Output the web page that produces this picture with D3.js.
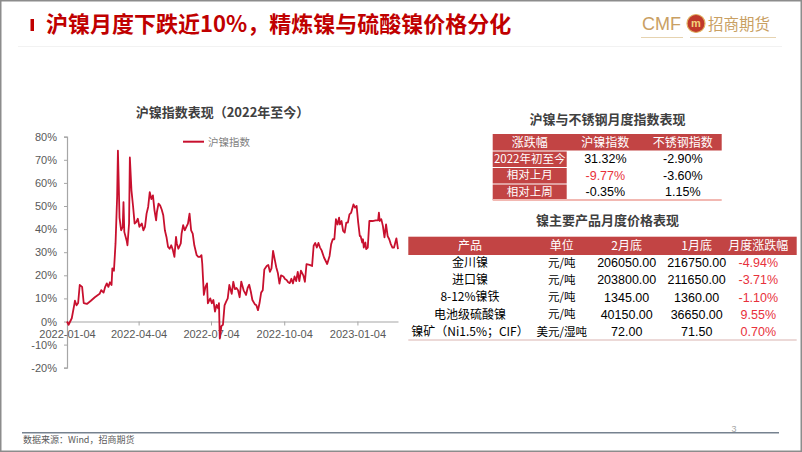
<!DOCTYPE html>
<html>
<head>
<meta charset="utf-8">
<script src="https://cdn.jsdelivr.net/npm/d3@7/dist/d3.min.js"></script>
<style>
  body { margin: 0; background: #fff; }
  svg { display: block; }
  text { font-family: "Noto Sans CJK SC", "Liberation Sans", sans-serif; }
  .num { font-family: "Liberation Sans", Arial, sans-serif; }
</style>
</head>
<body>
<div id="chart"></div>
<script>
'use strict';

// 沪镍指数 (2022年初以来累计涨跌, %)
var dates = [
  "2022-01-04","2022-01-06","2022-01-10","2022-01-13","2022-01-14","2022-01-16","2022-01-18","2022-01-20","2022-01-23","2022-01-25",
  "2022-01-29","2022-02-03","2022-02-08","2022-02-14","2022-02-16","2022-02-19","2022-02-21","2022-02-23","2022-02-25","2022-02-27",
  "2022-03-01","2022-03-02","2022-03-04","2022-03-06","2022-03-08","2022-03-09","2022-03-10","2022-03-11","2022-03-13","2022-03-15",
  "2022-03-16","2022-03-17","2022-03-20","2022-03-21","2022-03-23","2022-03-24","2022-03-26","2022-03-28","2022-03-30","2022-04-01",
  "2022-04-03","2022-04-05","2022-04-08","2022-04-10","2022-04-12","2022-04-14","2022-04-16","2022-04-18","2022-04-20","2022-04-22",
  "2022-04-24","2022-04-26","2022-04-27","2022-04-29","2022-05-01","2022-05-03","2022-05-05","2022-05-07","2022-05-09","2022-05-11",
  "2022-05-13","2022-05-15","2022-05-17","2022-05-19","2022-05-21","2022-05-22","2022-05-24","2022-05-27","2022-05-28","2022-05-30",
  "2022-06-01","2022-06-03","2022-06-05","2022-06-07","2022-06-09","2022-06-11","2022-06-13","2022-06-16","2022-06-18","2022-06-20",
  "2022-06-22","2022-06-23","2022-06-25","2022-06-27","2022-06-29","2022-06-30","2022-07-03","2022-07-05","2022-07-07","2022-07-09",
  "2022-07-11","2022-07-13","2022-07-14","2022-07-15","2022-07-17","2022-07-19","2022-07-21","2022-07-23","2022-07-25","2022-07-27",
  "2022-07-30","2022-08-01","2022-08-03","2022-08-05","2022-08-07","2022-08-09","2022-08-11","2022-08-14","2022-08-17","2022-08-19",
  "2022-08-21","2022-08-23","2022-08-25","2022-08-28","2022-08-30","2022-09-01","2022-09-03","2022-09-05","2022-09-07","2022-09-09",
  "2022-09-12","2022-09-14","2022-09-16","2022-09-18","2022-09-20","2022-09-22","2022-09-24","2022-09-26","2022-09-28","2022-09-30",
  "2022-10-03","2022-10-05","2022-10-07","2022-10-09","2022-10-11","2022-10-13","2022-10-15","2022-10-17","2022-10-19","2022-10-21",
  "2022-10-23","2022-10-25","2022-10-28","2022-10-30","2022-11-01","2022-11-05","2022-11-08","2022-11-10","2022-11-12","2022-11-14",
  "2022-11-16","2022-11-18","2022-11-20","2022-11-23","2022-11-27","2022-11-30","2022-12-02","2022-12-04","2022-12-06","2022-12-08",
  "2022-12-10","2022-12-12","2022-12-13","2022-12-15","2022-12-17","2022-12-19","2022-12-21","2022-12-23","2022-12-25","2022-12-27",
  "2022-12-30","2023-01-01","2023-01-03","2023-01-05","2023-01-07","2023-01-08","2023-01-10","2023-01-11","2023-01-12","2023-01-14",
  "2023-01-15","2023-01-17","2023-01-19","2023-01-23","2023-01-27","2023-01-30","2023-01-31","2023-02-01","2023-02-03","2023-02-05",
  "2023-02-07","2023-02-09","2023-02-11","2023-02-13","2023-02-15","2023-02-17","2023-02-19","2023-02-22","2023-02-24"
];
var nickelIndex = [
  0, -1.4, 1.4, 7, 9, 7, 8, 15.8, 15, 8,
  7.6, 9, 10.5, 12, 13.6, 12.5, 15, 16.5, 15, 17,
  15.8, 23, 22, 33.8, 53.9, 74, 60, 45, 39.5, 41,
  51.7, 38.8, 35, 33, 42.4, 71, 56.8, 50, 42.4, 43,
  44.5, 41, 42.4, 39.5, 41, 46.7, 49.6, 56, 53, 54.6,
  48, 43.8, 47.4, 51, 50.3, 48.5, 46, 39.5, 36.6, 32.3,
  31.5, 33, 31, 28, 36.6, 33.8, 31.5, 33.8, 38, 41.7,
  39.5, 41, 42.4, 46.7, 39.5, 38, 33, 28.7, 28, 28,
  28.7, 25, 11.5, 15, 16.5, 7.9, 10, 7.9, 9.3, 4.3,
  7.2, 5.7, 7.9, -7.4, -2, -1.4, 7, 8.6, 10, 15.8,
  12, 17.2, 14, 14.5, 13.5, 10.5, 17.3, 13.5, 11.5, 14.5,
  15.9, 13, 9.3, 7.5, 7, 4.9, 8, 12.5, 13.5, 22.5,
  24, 24.5, 21.5, 23, 30.6, 27, 23.5, 21, 16.4, 20,
  19.5, 18.4, 18, 17, 16.6, 18.5, 16.5, 19.5, 17.5, 21.5,
  17.5, 22, 20, 17.2, 24.8, 24.5, 24, 32.8, 34, 32,
  34, 32, 30.8, 27.7, 24.9, 28.4, 33.5, 35.6, 35.6, 44.3,
  42, 45, 42, 43.5, 39.2, 38.5, 42.8, 42.8, 46.4, 47,
  50.7, 49.3, 50, 42.8, 37, 37, 34.2, 35.6, 32, 34.2,
  31.3, 32, 43.5, 43.5, 43.8, 43.8, 47.1, 43.5, 44.3, 41.4,
  36.4, 42, 37, 35.6, 33.5, 32, 32, 36, 31.3
];
var yTicks = [-20, -10, 0, 10, 20, 30, 40, 50, 60, 70, 80];
var xTicks = ["2022-01-04", "2022-04-04", "2022-07-04", "2022-10-04", "2023-01-04"];

// 沪镍与不锈钢月度指数表现
var table1Head = ["涨跌幅", "沪镍指数", "不锈钢指数"];
var table1Rows = ["2022年初至今", "相对上月", "相对上周"];
var nickelChg = ["31.32%", "-9.77%", "-0.35%"];
var steelChg = ["-2.90%", "-3.60%", "1.15%"];

// 镍主要产品月度价格表现
var table2Head = ["产品", "单位", "2月底", "1月底", "月度涨跌幅"];
var products = ["金川镍", "进口镍", "8-12%镍铁", "电池级硫酸镍", "镍矿（Ni1.5%；CIF）"];
var units = ["元/吨", "元/吨", "元/吨", "元/吨", "美元/湿吨"];
var febEnd = ["206050.00", "203800.00", "1345.00", "40150.00", "72.00"];
var janEnd = ["216750.00", "211650.00", "1360.00", "36650.00", "71.50"];
var monthChg = ["-4.94%", "-3.71%", "-1.10%", "9.55%", "0.70%"];

const W = 802, H = 452;
const RED = "#c00000", LINE = "#c8102e", HEAD = "#c24444", GOLD = "#c9a063", UP = "#e8313b";

var svg = d3.select("#chart").append("svg")
    .attr("width", W).attr("height", H);

svg.append("rect").attr("x", 0.75).attr("y", 0.75).attr("width", W - 1.5).attr("height", H - 1.5)
    .attr("fill", "#fff").attr("stroke", "#8c8c8c").attr("stroke-width", 1.5);

// ---------- header ----------
svg.append("rect").attr("x", 30.5).attr("y", 19).attr("width", 3.5).attr("height", 12).attr("fill", RED);
svg.append("text").attr("x", 46).attr("y", 32).attr("fill", RED)
    .style("font-size", "22px").style("font-weight", "bold")
    .text("沪镍月度下跌近10%，精炼镍与硫酸镍价格分化");

svg.append("text").attr("x", 642).attr("y", 30).attr("fill", GOLD).attr("class", "num")
    .style("font-size", "18px").text("CMF");
svg.append("circle").attr("cx", 696).attr("cy", 23.5).attr("r", 9).attr("fill", "#c0392b")
    .attr("stroke", "#e0b060").attr("stroke-width", 1.2);
svg.append("text").attr("x", 696).attr("y", 27).attr("text-anchor", "middle").attr("fill", "#f3d27a")
    .attr("class", "num").style("font-size", "11px").style("font-weight", "bold").text("m");
svg.append("text").attr("x", 708).attr("y", 29.5).attr("fill", GOLD)
    .style("font-size", "15.5px").text("招商期货");
svg.append("line").attr("x1", 641).attr("x2", 683).attr("y1", 37.5).attr("y2", 37.5)
    .attr("stroke", "#e6d3b0").attr("stroke-width", 1);
svg.append("line").attr("x1", 690).attr("x2", 776).attr("y1", 37.5).attr("y2", 37.5)
    .attr("stroke", "#e6d3b0").attr("stroke-width", 1);
svg.append("line").attr("x1", 18).attr("x2", 782).attr("y1", 46.5).attr("y2", 46.5)
    .attr("stroke", "#f2f2f2").attr("stroke-width", 1);

// ---------- line chart ----------
var parse = d3.timeParse("%Y-%m-%d");
var series = dates.map(function(d, i) { return { date: parse(d), value: nickelIndex[i] }; });

var x = d3.scaleTime()
    .domain(d3.extent(series, function(d) { return d.date; }))
    .range([67, 398]);
var y = d3.scaleLinear().domain([-20, 80]).range([367.7, 136.7]);

svg.append("text").attr("x", 222.5).attr("y", 117).attr("text-anchor", "middle")
    .attr("fill", "#404040").style("font-size", "13px").style("font-weight", "bold")
    .text("沪镍指数表现（2022年至今）");

var yAxis = svg.append("g").attr("transform", "translate(67,0)")
    .call(d3.axisLeft(y).tickValues(yTicks).tickSize(3).tickPadding(7)
        .tickFormat(function(d) { return d + "%"; }));
var xAxis = svg.append("g").attr("transform", "translate(0," + y(0) + ")")
    .call(d3.axisBottom(x).tickValues(xTicks.map(parse)).tickSize(4).tickSizeOuter(0).tickPadding(5)
        .tickFormat(d3.timeFormat("%Y-%m-%d")));
[yAxis, xAxis].forEach(function(g) {
    g.select(".domain").attr("stroke", "#a6a6a6").attr("stroke-width", 1.2);
    g.selectAll(".tick line").attr("stroke", "#a6a6a6");
    g.selectAll("text").attr("class", "num").attr("fill", "#595959").style("font-size", "11px");
});

svg.append("path").datum(series)
    .attr("fill", "none").attr("stroke", LINE).attr("stroke-width", 1.8).attr("stroke-linejoin", "round")
    .attr("d", d3.line().x(function(d) { return x(d.date); }).y(function(d) { return y(d.value); }));

svg.append("line").attr("x1", 183).attr("x2", 204).attr("y1", 141.7).attr("y2", 141.7)
    .attr("stroke", LINE).attr("stroke-width", 2);
svg.append("text").attr("x", 208).attr("y", 145.5).attr("fill", "#7f7f7f")
    .style("font-size", "10.5px").text("沪镍指数");

// ---------- table 1 ----------
svg.append("text").attr("x", 607.5).attr("y", 124).attr("text-anchor", "middle")
    .attr("fill", "#404040").style("font-size", "13px").style("font-weight", "bold")
    .text("沪镍与不锈钢月度指数表现");

var t1Cols = [492.7, 566.7, 644, 721.7];
var t1Y = d3.scaleBand().domain(d3.range(table1Rows.length + 1)).range([134, 200]);
var t1 = svg.append("g");

t1.append("rect").attr("x", t1Cols[0]).attr("y", t1Y(0)).attr("width", t1Cols[3] - t1Cols[0])
    .attr("height", t1Y.bandwidth()).attr("fill", HEAD);
table1Head.forEach(function(h, j) {
    t1.append("text").attr("x", (t1Cols[j] + t1Cols[j + 1]) / 2).attr("y", t1Y(0) + t1Y.bandwidth() / 2)
        .attr("dy", "0.36em").attr("text-anchor", "middle").attr("fill", "#fff")
        .style("font-size", "12px").text(h);
});
table1Rows.forEach(function(r, i) {
    var y0 = t1Y(i + 1), mid = y0 + t1Y.bandwidth() / 2;
    t1.append("rect").attr("x", t1Cols[0]).attr("y", y0 + 1).attr("width", t1Cols[1] - t1Cols[0])
        .attr("height", t1Y.bandwidth() - 1).attr("fill", HEAD);
    t1.append("text").attr("x", (t1Cols[0] + t1Cols[1]) / 2).attr("y", mid).attr("dy", "0.36em")
        .attr("text-anchor", "middle").attr("fill", "#fff").style("font-size", "11.5px").text(r);
    [nickelChg[i], steelChg[i]].forEach(function(v, j) {
        t1.append("text").attr("class", "num").attr("x", (t1Cols[j + 1] + t1Cols[j + 2]) / 2).attr("y", mid)
            .attr("dy", "0.36em").attr("text-anchor", "middle")
            .attr("fill", (j === 0 && i === 1) ? UP : "#000").style("font-size", "12.5px").text(v);
    });
});
t1.append("line").attr("x1", t1Cols[0]).attr("x2", t1Cols[3]).attr("y1", 200).attr("y2", 200)
    .attr("stroke", "#f2b8b2").attr("stroke-width", 2);

// ---------- table 2 ----------
svg.append("text").attr("x", 607.5).attr("y", 225).attr("text-anchor", "middle")
    .attr("fill", "#404040").style("font-size", "13px").style("font-weight", "bold")
    .text("镍主要产品月度价格表现");

var t2Left = 408.3, t2Right = 796.7;
var t2Centers = [470, 561.7, 626.7, 696.7, 758.3];
var t2Y = d3.scaleBand().domain(d3.range(products.length)).range([254, 340]);
var t2 = svg.append("g");

t2.append("rect").attr("x", t2Left).attr("y", 236.7).attr("width", t2Right - t2Left)
    .attr("height", 18.3).attr("fill", HEAD);
table2Head.forEach(function(h, j) {
    t2.append("text").attr("x", t2Centers[j]).attr("y", 245.9).attr("dy", "0.36em")
        .attr("text-anchor", "middle").attr("fill", "#fff").style("font-size", "12px").text(h);
});
products.forEach(function(p, i) {
    var mid = t2Y(i) + t2Y.bandwidth() / 2;
    var cells = [p, units[i], febEnd[i], janEnd[i], monthChg[i]];
    cells.forEach(function(v, j) {
        var t = t2.append("text").attr("x", t2Centers[j]).attr("y", mid).attr("dy", "0.36em")
            .attr("text-anchor", "middle").attr("fill", j === 4 ? UP : "#000").text(v);
        if (j >= 2) t.attr("class", "num").style("font-size", "12.5px");
        else t.style("font-size", j === 0 ? "12px" : "11.5px");
    });
});
t2.append("line").attr("x1", t2Left).attr("x2", t2Right).attr("y1", 340).attr("y2", 340)
    .attr("stroke", "#d9b3b0").attr("stroke-width", 1);

// ---------- footer ----------
svg.append("line").attr("x1", 22).attr("x2", 779).attr("y1", 432.7).attr("y2", 432.7)
    .attr("stroke", "#76828f").attr("stroke-width", 1.5);
svg.append("text").attr("x", 734).attr("y", 432).attr("text-anchor", "middle").attr("class", "num")
    .attr("fill", "#a6a6a6").style("font-size", "9px").text("3");
svg.append("text").attr("x", 23).attr("y", 443).attr("fill", "#595959")
    .style("font-size", "9px").text("数据来源：Wind，招商期货");
</script>
</body>
</html>
